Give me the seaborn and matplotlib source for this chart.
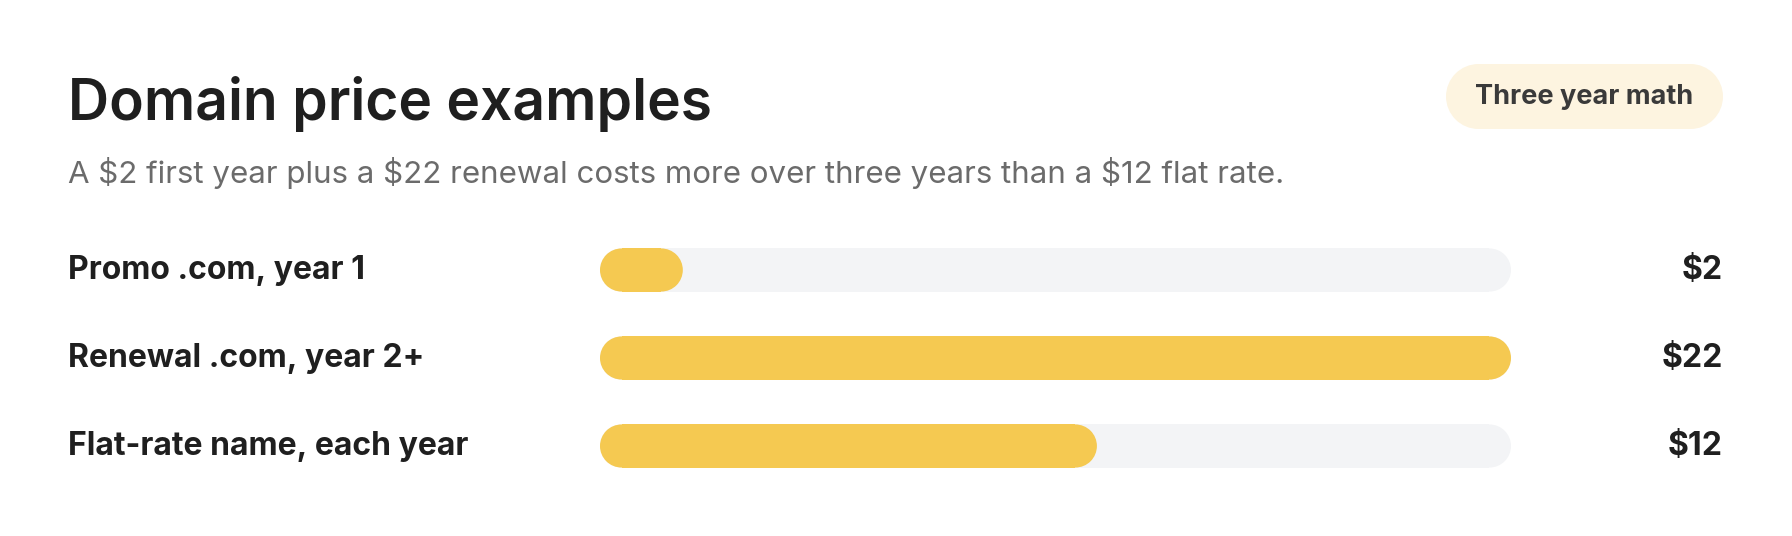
import matplotlib
matplotlib.use("Agg")
import matplotlib.pyplot as plt
from matplotlib.patches import Rectangle, Circle
import seaborn as sns
import pandas as pd

categories = ["Promo .com, year 1", "Renewal .com, year 2+", "Flat-rate name, each year"]
prices = [2, 22, 12]
value_labels = ["$2", "$22", "$12"]
max_price = 22

W, H = 1792, 536
sns.set_theme(style="white")
plt.rcParams["font.family"] = ["Inter", "DejaVu Sans"]

fig = plt.figure(figsize=(W / 100, H / 100), dpi=100)
fig.patch.set_facecolor("white")


def pill(x, y, w, h, color, z):
    # rounded bar in display pixels: rectangle plus two end circles
    r = h / 2
    kw = dict(transform=None, facecolor=color, edgecolor="none", zorder=z)
    fig.patches.append(Rectangle((x + r, y), max(w - h, 0), h, **kw))
    fig.patches.append(Circle((x + r, y + r), r, **kw))
    fig.patches.append(Circle((x + w - r, y + r), r, **kw))


# axes covering the bar track area (pixel positions from the reference)
x0, x1 = 600, 1511
row_h = 88
top = 270 - row_h / 2
ax = fig.add_axes([x0 / W, 1 - (top + 3 * row_h) / H, (x1 - x0) / W, 3 * row_h / H])
df = pd.DataFrame({"label": categories, "price": prices})
sns.barplot(data=df, y="label", x="price", ax=ax, color="#F5C951", width=0.49, orient="h")
ax.set_xlim(0, max_price)
ax.axis("off")

fig.canvas.draw()
track = ax.transData.transform([(0, 0), (max_price, 0)])
for bar in list(ax.patches):
    bb = bar.get_window_extent()
    bar.remove()
    pill(track[0][0], bb.y0, track[1][0] - track[0][0], bb.height, "#F3F4F6", 1)
    pill(bb.x0, bb.y0, bb.width, bb.height, "#F5C951", 2)

for i, (cat, val) in enumerate(zip(categories, value_labels)):
    y = 1 - (270 + i * row_h) / H
    fig.text(68 / W, y, cat, fontsize=23, fontweight="bold", color="#1f1f1f", va="center")
    fig.text(1723 / W, y, val, fontsize=23, fontweight="bold", color="#1f1f1f", va="center", ha="right")

fig.text(68 / W, 1 - 120 / H, "Domain price examples", fontsize=41, fontweight="semibold",
         color="#1f1f1f", va="baseline")
fig.text(68 / W, 1 - 183 / H, "A $2 first year plus a $22 renewal costs more over three years than a $12 flat rate.",
         fontsize=22.5, color="#6b6b6b", va="baseline")

# badge
bx0, by0, bx1, by1 = 1446, 64, 1723, 129
pill(bx0, H - by1, bx1 - bx0, by1 - by0, "#FDF4E0", 1)
fig.text((bx0 + bx1) / 2 / W, 1 - (by0 + by1) / 2 / H, "Three year math", fontsize=19.5,
         fontweight="bold", color="#3a3a3a", ha="center", va="center")

fig.savefig("out.png", dpi=100, facecolor="white")
